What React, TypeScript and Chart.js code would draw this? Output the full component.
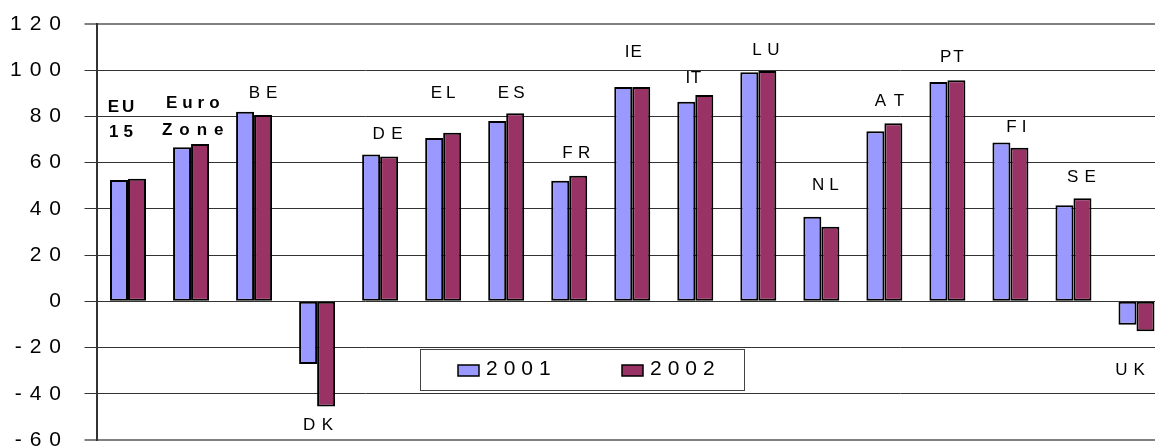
import React, { useEffect, useRef } from "react";
import { Chart, registerables } from "chart.js";

Chart.register(...registerables);

// ---- data ----
const categoryLabels: string[][] = [
  ["EU", "15"], ["Euro", "Zone"], ["BE"], ["DK"], ["DE"], ["EL"], ["ES"], ["FR"],
  ["IE"], ["IT"], ["LU"], ["NL"], ["AT"], ["PT"], ["FI"], ["SE"], ["UK"],
];
const seriesNames = ["2001", "2002"];
const values2001 = [52.5, 66.7, 82.0, -27.1, 63.5, 70.7, 78.0, 52.2, 92.7, 86.4, 99.1, 36.6, 73.6, 94.9, 68.7, 41.6, -10.1];
const values2002 = [53.0, 68.1, 80.6, -45.5, 62.7, 72.9, 81.4, 54.3, 92.7, 89.3, 99.7, 32.3, 77.1, 95.7, 66.5, 44.6, -12.9];
// where each country label sits (value units)
const labelAt = [79.3, 80.5, 90.4, -53.0, 73.0, 90.6, 90.6, 64.5, 108.4, 97.1, 109.4, 50.7, 87.0, 106.3, 76.1, 54.3, -29.3];
const yMin = -60;
const yMax = 120;
const yStep = 20;

// ---- style ----
const FONT = "'Liberation Sans', Arial, sans-serif";
const COLORS = ["#9999FF", "#993366"];
const labelDx = [-7, 1.7, 9, 1, 7.5, 0, 5, 7, 1, -2, 7.5, 4, 5, 4.5, 6, 8, -6.5];
const labelSpacing: number[][] = [[3, 5], [5, 7], [6], [6.5], [6.5], [4], [4], [5.5], [1], [0.5], [5.5], [5], [9], [2], [5], [6], [6]];

function drawSpaced(ctx: CanvasRenderingContext2D, text: string, cx: number, cy: number, size: number, bold: boolean, s: number, align: "center" | "left" = "center") {
  ctx.save();
  ctx.font = `${bold ? "bold " : ""}${size}px ${FONT}`;
  (ctx as any).letterSpacing = "0px";
  const w0 = ctx.measureText(text).width;
  const w = w0 + s * (text.length - 1);
  (ctx as any).letterSpacing = `${s}px`;
  ctx.textAlign = "left";
  ctx.textBaseline = "alphabetic";
  ctx.fillStyle = "#000";
  const x = align === "center" ? cx - w / 2 : cx;
  ctx.fillText(text, x, cy + size * 0.716 / 2);
  ctx.restore();
}

const spacingPlugin = {
  id: "spacing",
  beforeDraw(chart: any) {
    chart.ctx.letterSpacing = "8px";
  },
  beforeDatasetsDraw(chart: any) {
    chart.ctx.letterSpacing = "0px";
  },
};

const labelPlugin = {
  id: "labels",
  afterDraw(chart: any) {
    const ctx: CanvasRenderingContext2D = chart.ctx;
    const xs = chart.scales.x;
    const ys = chart.scales.y;
    categoryLabels.forEach((lines, i) => {
      const cx = xs.getPixelForValue(i) + labelDx[i];
      const cy = ys.getPixelForValue(labelAt[i]);
      const bold = lines.length > 1;
      const gap = i === 0 ? 25 : 26.5;
      lines.forEach((t, k) => {
        const y = cy + (k - (lines.length - 1) / 2) * gap;
        drawSpaced(ctx, t, cx, y, 17, bold, labelSpacing[i][k] ?? labelSpacing[i][0]);
      });
    });
    // legend
    ctx.save();
    (ctx as any).letterSpacing = "0px";
    ctx.fillStyle = "#fff";
    ctx.fillRect(420.5, 349.5, 324, 41);
    ctx.strokeStyle = "#444";
    ctx.lineWidth = 1;
    ctx.strokeRect(420.5, 349.5, 324, 41);
    const items = [
      { sx: 458, tx: 486 },
      { sx: 622, tx: 650 },
    ];
    items.forEach((it, k) => {
      ctx.fillStyle = COLORS[k];
      ctx.fillRect(it.sx, 365, 21, 11);
      ctx.strokeStyle = "#000";
      ctx.lineWidth = 1.5;
      ctx.strokeRect(it.sx, 365, 21, 11);
      drawSpaced(ctx, seriesNames[k], it.tx, 367.5, 21, false, 6, "left");
    });
    ctx.restore();
  },
};

export default function App() {
  const ref = useRef<HTMLCanvasElement>(null);
  useEffect(() => {
    if (!ref.current) return;
    const edge = (v: number) => v === yMax || v === yMin;
    const chart = new Chart(ref.current, {
      type: "bar",
      data: {
        labels: categoryLabels.map((l) => l.join(" ")),
        datasets: [
          {
            label: seriesNames[0],
            data: values2001,
            backgroundColor: COLORS[0],
            borderColor: "#000",
            borderWidth: 2,
            borderSkipped: false,
          },
          {
            label: seriesNames[1],
            data: values2002,
            backgroundColor: COLORS[1],
            borderColor: "#000",
            borderWidth: 2,
            borderSkipped: false,
          },
        ],
      },
      options: {
        animation: false,
        responsive: false,
        devicePixelRatio: 1,
        layout: { padding: { top: 24, bottom: 16, left: 0, right: 2 } },
        plugins: { legend: { display: false }, tooltip: { enabled: false }, title: { display: false } },
        datasets: { bar: { categoryPercentage: 36 / 63.03, barPercentage: 1 } },
        scales: {
          x: { display: false },
          y: {
            min: yMin,
            max: yMax,
            afterFit: (s: any) => {
              s.width = 96.5;
              s.paddingTop = 0;
              s.paddingBottom = 0;
            },
            ticks: {
              stepSize: yStep,
              color: "#000",
              padding: 15.5,
              font: { family: FONT, size: 21 },
            },
            grid: {
              color: (c: any) => (edge(c.tick?.value) ? "#808080" : "#333"),
              lineWidth: (c: any) => (edge(c.tick?.value) ? 2 : 1),
              tickColor: (c: any) => (edge(c.tick?.value) ? "#808080" : "#333"),
              tickLength: 12,
              drawTicks: true,
            },
            border: { color: "#333", width: 2 },
          },
        },
      },
      plugins: [spacingPlugin, labelPlugin],
    });
    return () => chart.destroy();
  }, []);
  return (
    <div style={{ position: "absolute", left: 0, top: 0, width: 1155, height: 448, overflow: "hidden", background: "#fff" }}>
      <canvas ref={ref} width={1170} height={456} style={{ display: "block", width: 1170, height: 456 }} />
    </div>
  );
}
